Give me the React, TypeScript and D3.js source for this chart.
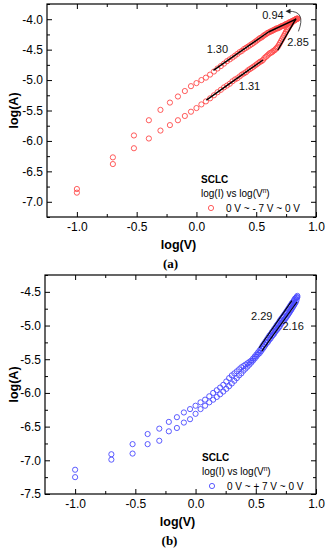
import { useRef, useEffect } from 'react'
import * as d3 from 'd3'

// applied voltage steps (V), same for both sweeps
const volts = [
  0.1, 0.2, 0.3, 0.4, 0.5, 0.6, 0.7, 0.8, 0.9, 1.0,
  1.1, 1.2, 1.3, 1.4, 1.5, 1.6, 1.7, 1.8, 1.9, 2.0,
  2.1, 2.2, 2.3, 2.4, 2.5, 2.6, 2.7, 2.8, 2.9, 3.0,
  3.1, 3.2, 3.3, 3.4, 3.5, 3.6, 3.7, 3.8, 3.9, 4.0,
  4.1, 4.2, 4.3, 4.4, 4.5, 4.6, 4.7, 4.8, 4.9, 5.0,
  5.1, 5.2, 5.3, 5.4, 5.5, 5.6, 5.7, 5.8, 5.9, 6.0,
  6.1, 6.2, 6.3, 6.4, 6.5, 6.6, 6.7, 6.8, 6.9, 7.0,
]

// (a) log(A), upper and lower branches
const aUpper = [
  -6.79, -6.27, -5.91, -5.66, -5.49, -5.37, -5.27, -5.18, -5.10, -5.05,
  -5.00, -4.96, -4.91, -4.86, -4.81, -4.77, -4.73, -4.69, -4.66, -4.63,
  -4.60, -4.57, -4.54, -4.52, -4.49, -4.47, -4.45, -4.43, -4.41, -4.39,
  -4.37, -4.35, -4.33, -4.31, -4.30, -4.28, -4.26, -4.25, -4.23, -4.22,
  -4.21, -4.20, -4.19, -4.18, -4.17, -4.16, -4.15, -4.15, -4.14, -4.13,
  -4.12, -4.11, -4.11, -4.10, -4.09, -4.08, -4.08, -4.07, -4.06, -4.05,
  -4.05, -4.04, -4.03, -4.03, -4.02, -4.01, -4.01, -4.00, -4.00, -3.99,
]
const aLower = [
  -6.85, -6.38, -6.12, -5.96, -5.83, -5.74, -5.66, -5.59, -5.52, -5.46,
  -5.40, -5.35, -5.30, -5.25, -5.20, -5.16, -5.12, -5.09, -5.06, -5.02,
  -4.99, -4.97, -4.94, -4.91, -4.89, -4.87, -4.84, -4.82, -4.80, -4.78,
  -4.76, -4.74, -4.72, -4.70, -4.69, -4.67, -4.64, -4.62, -4.60, -4.58,
  -4.56, -4.55, -4.54, -4.52, -4.51, -4.49, -4.47, -4.45, -4.42, -4.39,
  -4.36, -4.33, -4.30, -4.27, -4.24, -4.21, -4.18, -4.16, -4.13, -4.11,
  -4.09, -4.07, -4.05, -4.04, -4.03, -4.02, -4.01, -4.00, -3.99, -3.99,
]

// (b) log(A), upper and lower branches
const bUpper = [
  -7.14, -6.91, -6.76, -6.61, -6.53, -6.43, -6.36, -6.29, -6.24, -6.19,
  -6.14, -6.10, -6.05, -6.00, -5.96, -5.92, -5.88, -5.83, -5.78, -5.74,
  -5.71, -5.68, -5.65, -5.62, -5.60, -5.58, -5.56, -5.54, -5.52, -5.49,
  -5.46, -5.43, -5.40, -5.37, -5.34, -5.30, -5.27, -5.24, -5.21, -5.18,
  -5.15, -5.13, -5.10, -5.08, -5.05, -5.03, -5.00, -4.98, -4.96, -4.93,
  -4.91, -4.89, -4.87, -4.85, -4.83, -4.81, -4.79, -4.77, -4.75, -4.73,
  -4.71, -4.69, -4.67, -4.66, -4.64, -4.62, -4.60, -4.59, -4.58, -4.56,
]
const bLower = [
  -7.25, -6.99, -6.90, -6.76, -6.71, -6.57, -6.52, -6.44, -6.39, -6.31,
  -6.24, -6.19, -6.14, -6.10, -6.06, -6.02, -5.98, -5.94, -5.90, -5.86,
  -5.82, -5.78, -5.74, -5.71, -5.67, -5.64, -5.61, -5.58, -5.55, -5.52,
  -5.49, -5.46, -5.43, -5.41, -5.38, -5.35, -5.32, -5.29, -5.26, -5.24,
  -5.21, -5.19, -5.16, -5.14, -5.12, -5.09, -5.07, -5.05, -5.03, -5.01,
  -4.98, -4.96, -4.94, -4.93, -4.91, -4.89, -4.87, -4.85, -4.83, -4.81,
  -4.79, -4.77, -4.75, -4.73, -4.71, -4.69, -4.67, -4.65, -4.62, -4.58,
]

// fitted segments [logV0, logA0, logV1, logA1] and their slope labels
const aFits = [
  [0.142, -4.84, 0.602, -4.21],
  [0.602, -4.21, 0.833, -4.00],
  [0.083, -5.33, 0.556, -4.67],
  [0.680, -4.51, 0.833, -3.99],
]
const aSlopes = [
  { text: '1.30', x: 0.175, y: -4.51 },
  { text: '0.94', x: 0.64, y: -3.95 },
  { text: '1.31', x: 0.444, y: -5.12 },
  { text: '2.85', x: 0.85, y: -4.39 },
]
const bFits = [
  [0.528, -5.33, 0.800, -4.63],
  [0.550, -5.38, 0.842, -4.65],
]
const bSlopes = [
  { text: '2.29', x: 0.55, y: -4.87 },
  { text: '2.16', x: 0.81, y: -5.03 },
]

const xDomain = [-1.25, 1.0]
const xTicks = [-1.0, -0.5, 0.0, 0.5, 1.0]
const xMinor = [-0.75, -0.25, 0.25, 0.75]
const aYDomain = [-7.25, -3.75]
const aYTicks = [-7.0, -6.5, -6.0, -5.5, -5.0, -4.5, -4.0]
const aYMinor = [-7.25, -6.75, -6.25, -5.75, -5.25, -4.75, -4.25, -3.75]
const bYDomain = [-7.5, -4.25]
const bYTicks = [-7.5, -7.0, -6.5, -6.0, -5.5, -5.0, -4.5]
const bYMinor = [-7.25, -6.75, -6.25, -5.75, -5.25, -4.75, -4.25]

const FONT = 'Liberation Sans, Arial, sans-serif'

function drawPanel(svg: any, c: any) {
  const x = d3.scaleLinear().domain(xDomain).range([c.left, c.right])
  const y = d3.scaleLinear().domain(c.yDomain).range([c.bottom, c.top])
  const g = svg.append('g')
  const fmt = (d: number) => d.toFixed(1)

  const styleAxis = (sel: any) => {
    sel.select('.domain').remove()
    sel.selectAll('line').attr('stroke', '#000').attr('stroke-width', 1)
    sel.selectAll('text').attr('font-size', 12).attr('font-family', FONT).attr('fill', '#000')
  }

  g.append('g').attr('transform', `translate(0,${c.bottom})`)
    .call(d3.axisBottom(x).tickValues(xTicks).tickSize(-5).tickPadding(5).tickFormat(fmt as any)).call(styleAxis)
  g.append('g').attr('transform', `translate(0,${c.bottom})`)
    .call(d3.axisBottom(x).tickValues(xMinor).tickSize(-3).tickFormat(() => '')).call(styleAxis)
  g.append('g').attr('transform', `translate(0,${c.top})`)
    .call(d3.axisTop(x).tickValues(xTicks).tickSize(-5).tickFormat(() => '')).call(styleAxis)
  g.append('g').attr('transform', `translate(0,${c.top})`)
    .call(d3.axisTop(x).tickValues(xMinor).tickSize(-3).tickFormat(() => '')).call(styleAxis)

  g.append('g').attr('transform', `translate(${c.left},0)`)
    .call(d3.axisLeft(y).tickValues(c.yTicks).tickSize(-5).tickPadding(4).tickFormat(fmt as any)).call(styleAxis)
  g.append('g').attr('transform', `translate(${c.left},0)`)
    .call(d3.axisLeft(y).tickValues(c.yMinor).tickSize(-3).tickFormat(() => '')).call(styleAxis)
  g.append('g').attr('transform', `translate(${c.right},0)`)
    .call(d3.axisRight(y).tickValues(c.yTicks).tickSize(-5).tickFormat(() => '')).call(styleAxis)
  g.append('g').attr('transform', `translate(${c.right},0)`)
    .call(d3.axisRight(y).tickValues(c.yMinor).tickSize(-3).tickFormat(() => '')).call(styleAxis)

  g.append('rect')
    .attr('x', c.left).attr('y', c.top)
    .attr('width', c.right - c.left).attr('height', c.bottom - c.top)
    .attr('fill', 'none').attr('stroke', '#000').attr('stroke-width', 1.2)

  // data
  const pts: [number, number][] = []
  volts.forEach((v, i) => {
    pts.push([Math.log10(v), c.upper[i]])
    pts.push([Math.log10(v), c.lower[i]])
  })
  g.append('g').selectAll('circle').data(pts).enter().append('circle')
    .attr('cx', (d: any) => x(d[0])).attr('cy', (d: any) => y(d[1]))
    .attr('r', 2.6).attr('fill', 'none').attr('stroke', c.color).attr('stroke-width', 0.9)

  // fits
  g.append('g').selectAll('line').data(c.fits).enter().append('line')
    .attr('x1', (d: any) => x(d[0])).attr('y1', (d: any) => y(d[1]))
    .attr('x2', (d: any) => x(d[2])).attr('y2', (d: any) => y(d[3]))
    .attr('stroke', '#000').attr('stroke-width', c.fitWidth)

  g.append('g').selectAll('text').data(c.slopes).enter().append('text')
    .attr('x', (d: any) => x(d.x)).attr('y', (d: any) => y(d.y))
    .attr('text-anchor', 'middle').attr('dominant-baseline', 'middle')
    .attr('font-size', 11).attr('font-family', FONT).attr('fill', '#111')
    .text((d: any) => d.text)

  // axis titles
  g.append('text')
    .attr('x', (c.left + c.right) / 2 - 3).attr('y', c.bottom + 32)
    .attr('text-anchor', 'middle').attr('font-size', 12.5).attr('font-weight', 'bold')
    .attr('font-family', FONT).text('log(V)')
  g.append('text')
    .attr('transform', `translate(18,${(c.top + c.bottom) / 2}) rotate(-90)`)
    .attr('text-anchor', 'middle').attr('font-size', 12.5).attr('font-weight', 'bold')
    .attr('font-family', FONT).text('log(A)')
  g.append('text')
    .attr('x', (c.left + c.right) / 2 - 11).attr('y', c.bottom + 51)
    .attr('text-anchor', 'middle').attr('font-size', 13).attr('font-weight', 'bold')
    .attr('font-family', 'Liberation Serif, Times New Roman, serif').text(c.caption)

  // legend
  const lg = g.append('g').attr('font-family', FONT).attr('font-size', 10)
  lg.append('text').attr('x', c.legX).attr('y', c.legY).attr('font-weight', 'bold').text('SCLC')
  const t2 = lg.append('text').attr('x', c.legX).attr('y', c.legY + 14)
  t2.append('tspan').text('log(I) vs log(V')
  t2.append('tspan').attr('font-size', 6.5).attr('dy', -4).text('n')
  t2.append('tspan').attr('dy', 4).text(')')
  lg.append('circle').attr('cx', c.legX + 10).attr('cy', c.legY + 25)
    .attr('r', 2.6).attr('fill', 'none').attr('stroke', c.color).attr('stroke-width', 0.9)
  lg.append('text').attr('x', c.legX + 25).attr('y', c.legY + 29)
    .style('white-space', 'pre').text(c.legText)

  return { x, y, g }
}

function App() {
  const ref = useRef<SVGSVGElement>(null)

  useEffect(() => {
    const svg = d3.select(ref.current)
    svg.selectAll('*').remove()

    const a = drawPanel(svg, {
      left: 47, right: 316, top: 4, bottom: 217,
      yDomain: aYDomain, yTicks: aYTicks, yMinor: aYMinor,
      upper: aUpper, lower: aLower, color: '#ff4a4a',
      fits: aFits, slopes: aSlopes, fitWidth: 1.4,
      legX: 201, legY: 183, legText: '0 V ~ - 7 V ~ 0 V', caption: '(a)',
    })
    // curved arrow at the turning point
    const p0 = [a.x(0.853), a.y(-4.2)]
    const p1 = [a.x(0.92), a.y(-3.86)]
    const p2 = [a.x(0.77), a.y(-3.87)]
    a.g.append('path')
      .attr('d', `M${p0[0]},${p0[1]} Q${p1[0]},${p1[1]} ${p2[0]},${p2[1]}`)
      .attr('fill', 'none').attr('stroke', '#222').attr('stroke-width', 0.8)
    a.g.append('path')
      .attr('d', `M${p2[0] - 3},${p2[1]} L${p2[0] + 2},${p2[1] - 2.5} L${p2[0] + 2},${p2[1] + 2.5} Z`)
      .attr('fill', '#222')

    drawPanel(svg, {
      left: 45, right: 316, top: 275, bottom: 494,
      yDomain: bYDomain, yTicks: bYTicks, yMinor: bYMinor,
      upper: bUpper, lower: bLower, color: '#4a4aff',
      fits: bFits, slopes: bSlopes, fitWidth: 1.1,
      legX: 202, legY: 461, legText: '0 V ~ + 7 V ~ 0 V', caption: '(b)',
    })
  }, [])

  return (
    <div style={{ position: 'absolute', left: 0, top: 0, background: '#fff' }}>
      <svg ref={ref} width={329} height={550} style={{ display: 'block' }} />
    </div>
  )
}

export default App
